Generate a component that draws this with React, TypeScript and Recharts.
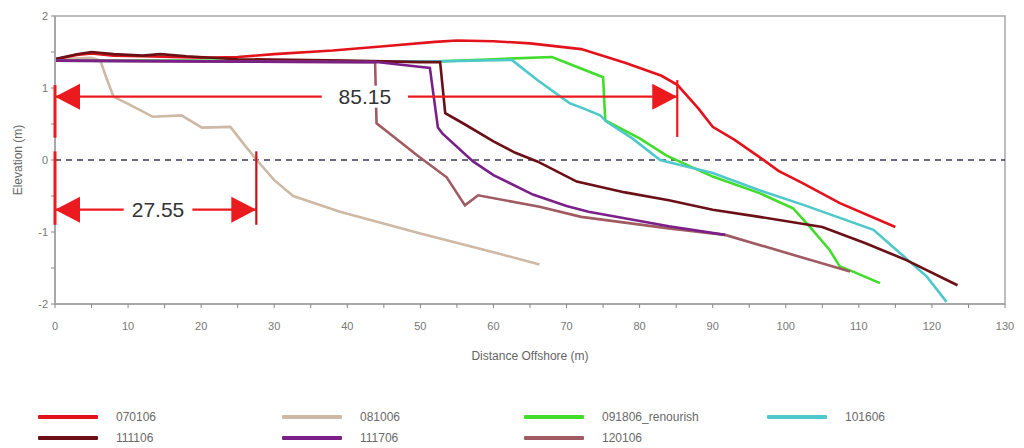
import React from 'react';
import {
  LineChart, Line, XAxis, YAxis, ReferenceLine, ReferenceDot, ReferenceArea, Legend,
} from 'recharts';

// ---- data: [distance offshore (m), elevation (m)] ----
const s070106: [number, number][] = [
  [0, 1.4], [3, 1.46], [5, 1.48], [8, 1.45], [12, 1.44], [20, 1.42], [25, 1.43], [30, 1.47], [38, 1.52],
  [45, 1.58], [52, 1.64], [55, 1.66], [60, 1.65], [65, 1.62], [72, 1.54], [78, 1.35], [83, 1.17], [85.2, 1.04],
  [88, 0.72], [90, 0.46], [93, 0.28], [96.4, 0.04], [99, -0.15], [102.3, -0.32], [107.4, -0.6], [115, -0.93],
];
const s081006: [number, number][] = [
  [0, 1.4], [5, 1.42], [6.2, 1.38], [7, 1.15], [8, 0.88], [10, 0.78], [13.4, 0.6], [17.3, 0.62], [20.1, 0.45],
  [24, 0.46], [26, 0.2], [27.6, 0], [30, -0.28], [32.6, -0.5], [39, -0.72], [50, -1.02], [60, -1.28], [66.3, -1.45],
];
const s091806: [number, number][] = [
  [0, 1.38], [20, 1.38], [40, 1.37], [52.7, 1.37], [60, 1.4], [68, 1.43], [75, 1.15], [75.3, 0.55],
  [80, 0.3], [83.7, 0.06], [90, -0.23], [96.4, -0.46], [101, -0.67], [103.3, -0.93], [106, -1.25],
  [107.4, -1.48], [109.2, -1.55], [112.9, -1.71],
];
const s101606: [number, number][] = [
  [0, 1.38], [30, 1.37], [52, 1.37], [62.5, 1.39], [66, 1.11], [70.4, 0.79], [72.2, 0.72], [74.6, 0.62],
  [75.5, 0.53], [79, 0.3], [82.8, 0], [90, -0.18], [96.4, -0.42], [102.3, -0.62], [112, -0.97],
  [114.6, -1.2], [119.3, -1.62], [122, -1.97],
];
const s111106: [number, number][] = [
  [0, 1.4], [3, 1.47], [5, 1.5], [8, 1.47], [12, 1.45], [14.4, 1.47], [18, 1.44], [25, 1.4], [40, 1.38],
  [50, 1.36], [52.7, 1.36], [53.4, 0.65], [56, 0.5], [60, 0.26], [63, 0.1], [66, -0.02], [71.4, -0.3],
  [78, -0.45], [84, -0.56], [90, -0.69], [96.4, -0.79], [105, -0.93], [111, -1.16], [116.5, -1.39], [123.5, -1.74],
];
const s111706: [number, number][] = [
  [0, 1.38], [20, 1.37], [44, 1.36], [51.3, 1.28], [51.8, 0.9], [52.4, 0.45], [53, 0.37], [57.2, -0.02],
  [60, -0.21], [65.4, -0.48], [70, -0.64], [73, -0.72], [84, -0.92], [91.7, -1.04],
];
const s120106: [number, number][] = [
  [0, 1.38], [20, 1.37], [43.8, 1.36], [44, 0.51], [46, 0.35], [49.5, 0.07], [53.6, -0.24], [56.1, -0.63],
  [57.9, -0.49], [66.3, -0.65], [72, -0.79], [84, -0.95], [91.7, -1.04], [108.8, -1.55],
];

const seriesNames = ['070106', '111106', '081006', '111706', '091806_renourish', '120106', '101606'];
const seriesColors: Record<string, string> = {
  '070106': '#e3131b',
  '081006': '#cdb9a5',
  '091806_renourish': '#42dc2a',
  '101606': '#4ec8ca',
  '111106': '#6a1016',
  '111706': '#7a2088',
  '120106': '#a05a62',
};

const xTicks = [0, 5, 10, 15, 20, 25, 30, 35, 40, 45, 50, 55, 60, 65, 70, 75, 80, 85, 90, 95, 100, 105, 110, 115, 120, 125, 130];
const yTicks = [-2, -1.5, -1, -0.5, 0, 0.5, 1, 1.5, 2];

// annotations
const dimLong = 85.15;
const dimLongY = 0.88;
const dimLongTick: [number, number] = [1.11, 0.32];
const dimLongLabelX = 42.4;
const dimShort = 27.55;
const dimShortY = -0.69;
const dimShortTick: [number, number] = [0.12, -0.9];
const dimShortLabelX = 14.1;
const dimLongZeroTick: [number, number] = [1.04, 0.31];

const toRows = (d: [number, number][]) => d.map(([x, y]) => ({ x, y }));
const seriesData: Record<string, { x: number; y: number }[]> = {
  '070106': toRows(s070106),
  '081006': toRows(s081006),
  '091806_renourish': toRows(s091806),
  '101606': toRows(s101606),
  '111106': toRows(s111106),
  '111706': toRows(s111706),
  '120106': toRows(s120106),
};
const drawOrder = ['081006', '070106', '091806_renourish', '101606', '111106', '120106', '111706'];

const RED = '#ea1a1f';

const Arrow = (dir: 'left' | 'right') => (props: any) => {
  const { cx, cy } = props;
  const len = 25;
  const half = 13;
  const bx = dir === 'left' ? cx + len : cx - len;
  return <polygon points={`${cx},${cy} ${bx},${cy - half} ${bx},${cy + half}`} fill={RED} />;
};

const DimLabel = (text: string) => (props: any) => {
  const { cx, cy } = props;
  return (
    <g>
      <rect x={cx - 32} y={cy - 11} width={64} height={22} fill="#fff" />
      <text x={cx} y={cy} textAnchor="middle" dominantBaseline="central" fontSize={21}
        fontFamily="Liberation Sans, Arial, sans-serif" fill="#333">{text}</text>
    </g>
  );
};

const legendCols = [30, 274, 516, 759];
const LegendContent = () => (
  <div style={{ position: 'relative', width: 1008, height: 44, fontFamily: 'Liberation Sans, Arial, sans-serif', fontSize: 12, color: '#6a6a6a' }}>
    {seriesNames.map((name, i) => {
      const col = Math.floor(i / 2);
      const row = i % 2;
      const left = legendCols[col];
      const top = 3 + row * 21;
      return (
        <div key={name} style={{ position: 'absolute', left, top, height: 20, display: 'flex', alignItems: 'center' }}>
          <div style={{ width: 60, height: 4, background: seriesColors[name], borderRadius: 1 }} />
          <span style={{ marginLeft: 18 }}>{name}</span>
        </div>
      );
    })}
  </div>
);

const tickStyle = { fill: '#777', fontSize: 11, fontFamily: 'Liberation Sans, Arial, sans-serif' };

export default function App() {
  return (
    <LineChart width={1008} height={440} margin={{ top: 8, right: 11, bottom: 0, left: 0 }}>
      <XAxis
        dataKey="x" type="number" domain={[0, 130]} ticks={xTicks} allowDataOverflow
        tickFormatter={(v: number) => (v % 10 === 0 ? String(v) : '')}
        tick={tickStyle} tickSize={4} tickMargin={14} height={100}
        axisLine={{ stroke: '#a8a8a8', strokeWidth: 2 }} tickLine={{ stroke: '#888' }}
        label={{ value: 'Distance Offshore (m)', position: 'insideTop', offset: 47, style: { fill: '#666', fontSize: 12, fontFamily: 'Liberation Sans, Arial, sans-serif' } }}
      />
      <YAxis
        type="number" domain={[-2, 2]} ticks={yTicks} allowDataOverflow width={47}
        tickFormatter={(v: number) => (Number.isInteger(v) ? String(v) : '')}
        tick={tickStyle} tickSize={4} tickMargin={3}
        axisLine={{ stroke: '#a8a8a8', strokeWidth: 2 }} tickLine={{ stroke: '#888' }}
        label={{ value: 'Elevation (m)', angle: -90, position: 'insideLeft', offset: 10, style: { textAnchor: 'middle', fill: '#666', fontSize: 12, fontFamily: 'Liberation Sans, Arial, sans-serif' } }}
      />
      <ReferenceArea x1={0} x2={130} y1={-2} y2={2} fill="none" stroke="#a8a8a8" strokeWidth={1.5} />
      <ReferenceLine y={0} stroke="#3a3a55" strokeDasharray="6 5" strokeWidth={1.5} />

      <ReferenceDot x={dimLongLabelX} y={dimLongY} r={0} shape={DimLabel(String(dimLong))} />
      <ReferenceDot x={dimShortLabelX} y={dimShortY} r={0} shape={DimLabel(String(dimShort))} />

      {drawOrder.map((name) => (
        <Line key={name} data={seriesData[name]} dataKey="y" name={name} stroke={seriesColors[name]}
          strokeWidth={2.6} dot={false} isAnimationActive={false} type="linear" />
      ))}

      <ReferenceLine segment={[{ x: 0, y: dimLongY }, { x: 36.5, y: dimLongY }]} stroke={RED} strokeWidth={2.2} ifOverflow="visible" />
      <ReferenceLine segment={[{ x: 48.3, y: dimLongY }, { x: dimLong, y: dimLongY }]} stroke={RED} strokeWidth={2.2} ifOverflow="visible" />
      <ReferenceLine segment={[{ x: dimLong, y: dimLongTick[0] }, { x: dimLong, y: dimLongTick[1] }]} stroke={RED} strokeWidth={2.2} ifOverflow="visible" />
      <ReferenceLine segment={[{ x: 0, y: dimLongZeroTick[0] }, { x: 0, y: dimLongZeroTick[1] }]} stroke={RED} strokeWidth={3} ifOverflow="visible" zIndex={2000} />
      <ReferenceDot x={0} y={dimLongY} r={0} shape={Arrow('left')} ifOverflow="visible" />
      <ReferenceDot x={dimLong} y={dimLongY} r={0} shape={Arrow('right')} ifOverflow="visible" />

      <ReferenceLine segment={[{ x: 0, y: dimShortY }, { x: 9.4, y: dimShortY }]} stroke={RED} strokeWidth={2.2} ifOverflow="visible" />
      <ReferenceLine segment={[{ x: 18.8, y: dimShortY }, { x: dimShort, y: dimShortY }]} stroke={RED} strokeWidth={2.2} ifOverflow="visible" />
      <ReferenceLine segment={[{ x: dimShort, y: dimShortTick[0] }, { x: dimShort, y: dimShortTick[1] }]} stroke="#c8101a" strokeWidth={2.2} ifOverflow="visible" />
      <ReferenceLine segment={[{ x: 0, y: dimShortTick[0] }, { x: 0, y: dimShortTick[1] }]} stroke={RED} strokeWidth={3} ifOverflow="visible" zIndex={2000} />
      <ReferenceDot x={0} y={dimShortY} r={0} shape={Arrow('left')} ifOverflow="visible" />
      <ReferenceDot x={dimShort} y={dimShortY} r={0} shape={Arrow('right')} ifOverflow="visible" />

      <Legend verticalAlign="bottom" height={44} content={LegendContent} wrapperStyle={{ left: 0, width: 1008 }} />
    </LineChart>
  );
}
